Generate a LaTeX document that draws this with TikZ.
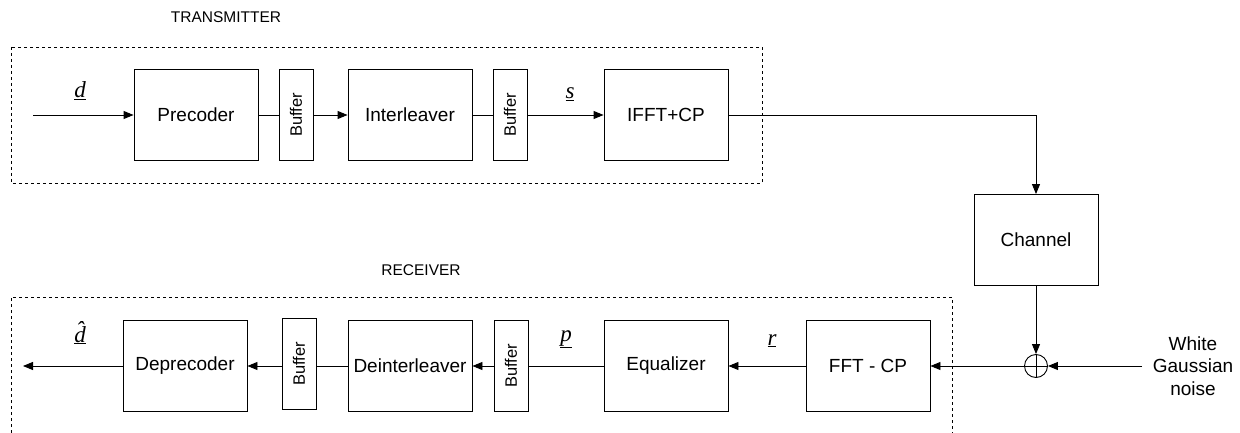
\documentclass[tikz,border=0pt]{standalone}
\usepackage{fontspec}
\setmainfont{Liberation Sans}
\newfontfamily\sigfont{Liberation Serif}
\usetikzlibrary{positioning, arrows.meta, shapes}

\begin{document}
\begin{tikzpicture}[x=1pt, y=-1pt, line width=0.9pt,
    >={Triangle[length=10pt, width=8pt]},
    block/.style={rectangle, draw, minimum width=124pt, minimum height=91pt, inner sep=0pt, font=\fontsize{19}{23}\selectfont},
    buf/.style={rectangle, draw, minimum width=34pt, minimum height=91pt, inner sep=0pt},
    buftext/.style={rotate=90, font=\fontsize{16.5}{19}\selectfont},
    sig/.style={anchor=base, inner sep=0pt, font=\sigfont\itshape\fontsize{23}{27}\selectfont},
    title/.style={font=\fontsize{15.5}{18}\selectfont}]
    \useasboundingbox (0,0) rectangle (1240,433);

    % Frames
    \draw[dashed, line width=0.7pt] (11,47) rectangle (762,183);
    \draw[dashed, line width=0.7pt] (11,433) -- (11,297) -- (952,297) -- (952,433);
    \node[title] (txtitle) at (226,17) {TRANSMITTER};
    \node[title] (rxtitle) at (421,270) {RECEIVER};

    % Transmitter
    \coordinate (din) at (33,115);
    \node (precoder) [block] at (196,115) {Precoder};
    \node (buf1) [buf] at (296,115) {};
    \node[buftext] at (buf1) {Buffer};
    \node (interleaver) [block] at (410,115) {Interleaver};
    \node (buf2) [buf] at (510,115) {};
    \node[buftext] at (buf2) {Buffer};
    \node (ifft) [block] at (666,115) {IFFT+CP};

    % Channel
    \node (channel) [block] at (1036,240) {Channel};
    \node (sum) [circle, draw, minimum size=23pt, inner sep=0pt] at (1036,366) {};
    \draw (sum.north) -- (sum.south);
    \draw (sum.west) -- (sum.east);
    \node (noise) [align=center, font=\fontsize{19}{22.5}\selectfont] at (1193,366) {White\\Gaussian\\noise};
    \coordinate (noisein) at (1142,366);

    % Receiver
    \node (fft) [block] at (868,366) {FFT - CP};
    \node (equalizer) [block] at (666,366) {Equalizer};
    \node (buf4) [buf] at (511,366) {};
    \node[buftext] at (buf4) {Buffer};
    \node (deinterleaver) [block] at (410,366) {Deinterleaver};
    \node (buf3) [buf] at (299,364) {};
    \node[buftext] at (buf3) {Buffer};
    \node (deprecoder) [block] at (185,366) {Deprecoder};
    \coordinate (dout) at (23,366);

    % Arrows
    \draw[->] (din) -- (precoder);
    \draw (precoder) -- (buf1);
    \draw[->] (buf1) -- (interleaver);
    \draw (interleaver) -- (buf2);
    \draw[->] (buf2) -- (ifft);
    \draw[->] (ifft.east) -- (channel.north |- ifft.east) -- (channel.north);
    \draw[->] (channel.south) -- (sum.north);
    \draw[->] (noisein) -- (sum.east);
    \draw[->] (sum.west) -- (fft.east);
    \draw[->] (fft) -- (equalizer);
    \draw (equalizer) -- (buf4);
    \draw[->] (buf4) -- (deinterleaver);
    \draw (deinterleaver.west) -- (buf3.east |- deinterleaver.west);
    \draw[->] (buf3.west |- deprecoder.east) -- (deprecoder.east);
    \draw[->] (deprecoder) -- (dout);

    % Signal labels
    \node[sig] (dlbl) at (80,98) {\underline{d}};
    \node[sig] (slbl) at (570,99) {\underline{s}};
    \node[sig] (dhatlbl) at (80,342) {\underline{\^{d}}};
    \node[sig] (plbl) at (566,341) {\underline{p}};
    \node[sig] (rlbl) at (772,345) {\underline{r}};
\end{tikzpicture}
\end{document}
